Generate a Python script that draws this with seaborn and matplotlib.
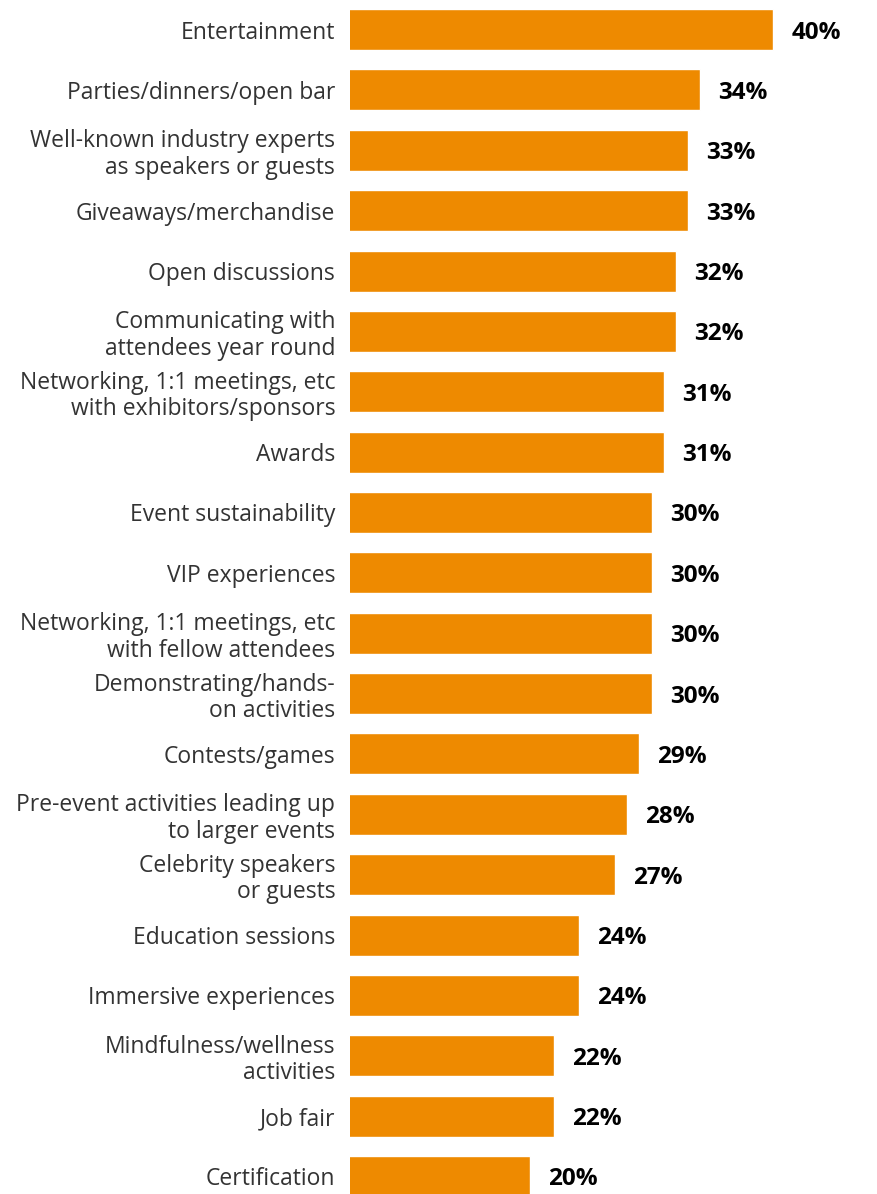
import matplotlib
matplotlib.use("Agg")
import matplotlib.pyplot as plt
import seaborn as sns
import pandas as pd

# Survey results: share of respondents per event feature
categories = [
    "Entertainment",
    "Parties/dinners/open bar",
    "Well-known industry experts\nas speakers or guests",
    "Giveaways/merchandise",
    "Open discussions",
    "Communicating with\nattendees year round",
    "Networking, 1:1 meetings, etc\nwith exhibitors/sponsors",
    "Awards",
    "Event sustainability",
    "VIP experiences",
    "Networking, 1:1 meetings, etc\nwith fellow attendees",
    "Demonstrating/hands-\non activities",
    "Contests/games",
    "Pre-event activities leading up\nto larger events",
    "Celebrity speakers\nor guests",
    "Education sessions",
    "Immersive experiences",
    "Mindfulness/wellness\nactivities",
    "Job fair",
    "Certification",
]
values = [40, 34, 33, 33, 32, 32, 31, 31, 30, 30, 30, 30, 29, 28, 27, 24, 24, 22, 22, 20]

df = pd.DataFrame({"feature": categories, "share": values})

sns.set_theme(style="white")
plt.rcParams["font.family"] = ["Open Sans", "DejaVu Sans"]

W, H = 878, 1194
fig = plt.figure(figsize=(W / 100, H / 100), dpi=100)
left = 350.5 / W
ax = fig.add_axes([left, 0, 1 - left, 1])

sns.barplot(
    data=df, x="share", y="feature", orient="h",
    color="#EE8A00", saturation=1, width=0.68, ax=ax,
)

ax.set_xlim(5.26, 48.6)
ax.set_ylim(19.29, -0.49)

for c in ax.containers:
    texts = ax.bar_label(
        c, labels=[f"{v}%" for v in values], padding=13,
        fontsize=17.5, fontweight="bold", color="#000000",
    )
    for t in texts:
        t.set_va("center_baseline")

ax.set_xlabel("")
ax.set_ylabel("")
ax.set_xticks([])
ax.tick_params(axis="y", length=0, pad=11, labelsize=16.5, labelcolor="#333333")
for lab in ax.get_yticklabels():
    lab.set_linespacing(1.15)
for s in ax.spines.values():
    s.set_visible(False)

fig.savefig("out.png", dpi=100)
